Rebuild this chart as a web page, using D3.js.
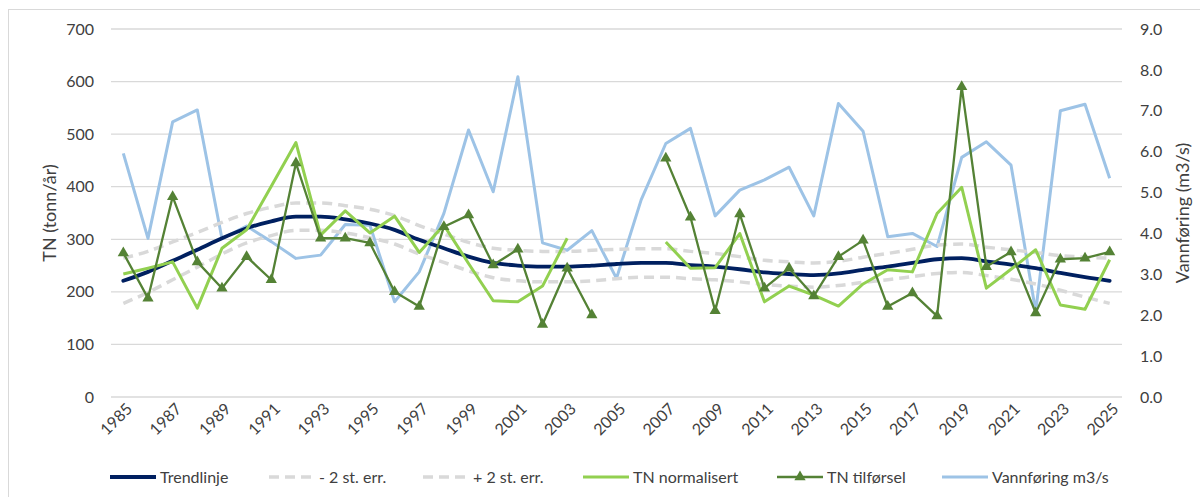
<!DOCTYPE html>
<html>
<head>
<meta charset="utf-8">
<script src="https://cdn.jsdelivr.net/npm/d3@7"></script>
<style>
  body { margin: 0; background: #fff; }
  text { font-family: Lato, "Open Sans", sans-serif; fill: #404040; }
</style>
</head>
<body>
<div id="chart"></div>
<script>
// years on the category axis
const years = d3.range(1985, 2026)
const yearLabels = years.filter((d, i) => i % 2 === 0)

// TN (tonn/år), primary axis
const trend = [221, 238, 259, 280, 302, 321, 334, 343, 343, 338, 330, 318, 299, 283, 267, 255, 250, 248, 248, 250,
  253, 255, 255, 251, 248, 243, 237, 234, 232, 235, 242, 248, 255, 262, 264, 258, 252, 245, 236, 228, 221]
const lower = [178, 199, 223, 247, 272, 293, 307, 317, 317, 312, 303, 291, 272, 256, 240, 227, 221, 219, 219, 221,
  225, 228, 228, 225, 223, 219, 214, 211, 209, 212, 218, 223, 229, 235, 237, 231, 224, 215, 203, 190, 178]
const upper = [264, 277, 295, 313, 332, 349, 361, 369, 369, 364, 357, 345, 326, 310, 294, 283, 279, 277, 277, 279,
  281, 282, 282, 277, 273, 267, 260, 257, 255, 258, 266, 273, 281, 289, 291, 285, 280, 275, 269, 266, 264]
const tnNorm = [234, 245, 257, 169, 283, 318, 401, 484, 308, 354, 312, 344, 275, 327, 254, 183, 181, 211, 302, null,
  null, null, 295, 245, 246, 311, 181, 211, 194, 173, 215, 242, 238, 349, 399, 207, 243, 280, 175, 167, 261]
const tnTilf = [274, 188, 381, 257, 207, 267, 223, 445, 302, 302, 293, 200, 172, 324, 346, 251, 281, 138, 245, 156,
  null, null, 454, 342, 164, 348, 207, 245, 192, 267, 298, 172, 198, 154, 590, 248, 276, 160, 262, 264, 276]

// Vannføring m3/s, secondary axis
const flow = [5.96, 3.88, 6.73, 7.02, 3.87, 4.18, 3.8, 3.39, 3.47, 4.22, 4.2, 2.33, 3.06, 4.49, 6.53, 5.02, 7.83, 3.77, 3.59, 4.07,
  2.9, 4.82, 6.2, 6.57, 4.43, 5.06, 5.31, 5.62, 4.43, 7.18, 6.5, 3.92, 4.0, 3.68, 5.86, 6.24, 5.67, 2.09, 7.0, 7.16, 5.35]

const leftTicks = [0, 100, 200, 300, 400, 500, 600, 700]
const rightTicks = [0, 1, 2, 3, 4, 5, 6, 7, 8, 9]

const width = 1200, height = 497
const plot = {left: 111, right: 1122, top: 29, bottom: 397}

const svg = d3.select("#chart")
  .append("svg")
    .attr("width", width)
    .attr("height", height)

// chart frame
svg.append("rect")
  .attr("x", 8.5).attr("y", 9.5)
  .attr("width", 1200).attr("height", 500)
  .attr("fill", "none")
  .attr("stroke", "#d9d9d9")

const x = d3.scalePoint().domain(years).range([plot.left, plot.right]).padding(0.5)
const y = d3.scaleLinear().domain([0, 700]).range([plot.bottom, plot.top])
const y2 = d3.scaleLinear().domain([0, 9]).range([plot.bottom, plot.top])

// gridlines
svg.append("g")
  .selectAll("line")
  .data(leftTicks)
  .enter()
  .append("line")
    .attr("x1", plot.left).attr("x2", plot.right)
    .attr("y1", d => y(d)).attr("y2", d => y(d))
    .attr("stroke", "#d9d9d9")
    .attr("stroke-width", 1.3)

// left axis
const yAxis = svg.append("g")
  .attr("transform", "translate(" + (plot.left - 17) + ",0)")
  .call(d3.axisLeft(y).tickValues(leftTicks).tickSize(0).tickPadding(0))
yAxis.select(".domain").remove()
yAxis.selectAll("text").style("font-size", "16px").attr("fill", "#404040")

// right axis
const y2Axis = svg.append("g")
  .attr("transform", "translate(" + (plot.right + 18) + ",0)")
  .call(d3.axisRight(y2).tickValues(rightTicks).tickFormat(d3.format(".1f")).tickSize(0).tickPadding(0))
y2Axis.select(".domain").remove()
y2Axis.selectAll("text").style("font-size", "16px").attr("fill", "#404040")

// x labels, rotated
svg.append("g")
  .selectAll("text")
  .data(yearLabels)
  .enter()
  .append("text")
    .attr("transform", d => "translate(" + (x(d) + 6) + "," + (plot.bottom + 9) + ") rotate(-45)")
    .attr("text-anchor", "end")
    .attr("dy", "0.35em")
    .style("font-size", "16px")
    .text(d => d)

// axis titles
svg.append("text")
  .attr("transform", "translate(50," + ((plot.top + plot.bottom) / 2) + ") rotate(-90)")
  .attr("text-anchor", "middle")
  .attr("dy", "0.35em")
  .style("font-size", "18px")
  .text("TN (tonn/år)")

svg.append("text")
  .attr("transform", "translate(1183," + ((plot.top + plot.bottom) / 2) + ") rotate(-90)")
  .attr("text-anchor", "middle")
  .attr("dy", "0.35em")
  .style("font-size", "18px")
  .text("Vannføring (m3/s)")

const lineY = d3.line()
  .defined(d => d[1] != null)
  .x(d => x(d[0]))
  .y(d => y(d[1]))
const smoothY = d3.line()
  .x(d => x(d[0]))
  .y(d => y(d[1]))
  .curve(d3.curveMonotoneX)
const lineY2 = d3.line()
  .x(d => x(d[0]))
  .y(d => y2(d[1]))

const pairs = arr => years.map((yr, i) => [yr, arr[i]])

// flow on secondary axis
svg.append("path")
  .attr("d", lineY2(pairs(flow)))
  .attr("fill", "none")
  .attr("stroke", "#9dc3e6")
  .attr("stroke-width", 3)
  .attr("stroke-linejoin", "round")

// st. err. bands
;[lower, upper].forEach(arr => {
  svg.append("path")
    .attr("d", smoothY(pairs(arr)))
    .attr("fill", "none")
    .attr("stroke", "#d9d9d9")
    .attr("stroke-width", 3.5)
    .attr("stroke-dasharray", "10,6")
})

// trend
svg.append("path")
  .attr("d", smoothY(pairs(trend)))
  .attr("fill", "none")
  .attr("stroke", "#002060")
  .attr("stroke-width", 3.8)
  .attr("stroke-linecap", "round")

// TN normalisert
svg.append("path")
  .attr("d", lineY(pairs(tnNorm)))
  .attr("fill", "none")
  .attr("stroke", "#92d050")
  .attr("stroke-width", 3)
  .attr("stroke-linejoin", "round")

// TN tilførsel
svg.append("path")
  .attr("d", lineY(pairs(tnTilf)))
  .attr("fill", "none")
  .attr("stroke", "#548235")
  .attr("stroke-width", 2.3)
  .attr("stroke-linejoin", "round")

svg.append("g")
  .selectAll("path")
  .data(pairs(tnTilf).filter(d => d[1] != null))
  .enter()
  .append("path")
    .attr("transform", d => "translate(" + x(d[0]) + "," + y(d[1]) + ")")
    .attr("d", d3.symbol(d3.symbolTriangle, 55))
    .attr("fill", "#548235")

// legend
const legendItems = [
  {label: "Trendlinje", color: "#002060", width: 3.8, x: 110},
  {label: "- 2 st. err.", color: "#d9d9d9", width: 3.5, dash: "10,6", x: 269},
  {label: "+ 2 st. err.", color: "#d9d9d9", width: 3.5, dash: "10,6", x: 423},
  {label: "TN normalisert", color: "#92d050", width: 3, x: 583},
  {label: "TN tilførsel", color: "#548235", width: 2.3, marker: true, x: 777},
  {label: "Vannføring m3/s", color: "#9dc3e6", width: 3, x: 942}
]
const legend = svg.append("g").attr("transform", "translate(0,477)")
const li = legend.selectAll("g")
  .data(legendItems)
  .enter()
  .append("g")
    .attr("transform", d => "translate(" + d.x + ",0)")
li.append("line")
  .attr("x1", 0).attr("x2", 46)
  .attr("stroke", d => d.color)
  .attr("stroke-width", d => d.width)
  .attr("stroke-dasharray", d => d.dash || null)
li.filter(d => d.marker)
  .append("path")
    .attr("transform", "translate(23,0)")
    .attr("d", d3.symbol(d3.symbolTriangle, 55))
    .attr("fill", d => d.color)
li.append("text")
  .attr("x", 50)
  .attr("dy", "0.35em")
  .style("font-size", "16px")
  .text(d => d.label)
</script>
</body>
</html>
